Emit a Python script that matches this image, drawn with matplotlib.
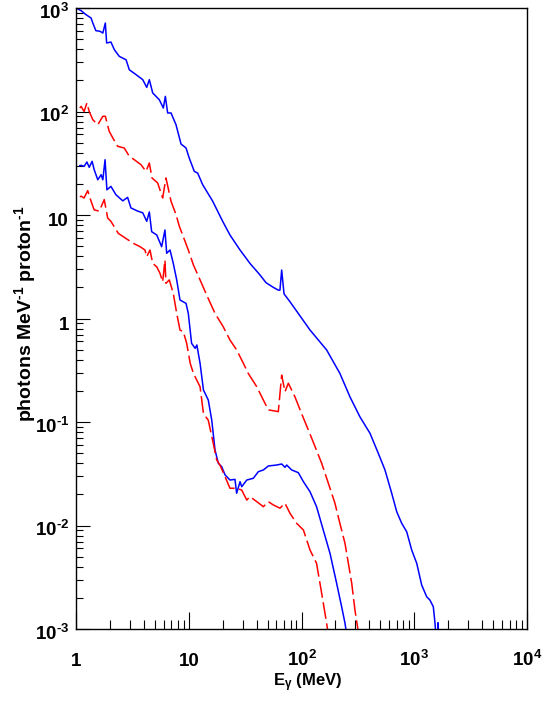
import numpy as np
import matplotlib
matplotlib.use("Agg")
import matplotlib.pyplot as plt
from matplotlib import transforms
from matplotlib.ticker import LogLocator, NullFormatter

plt.rcParams["font.family"] = ["Liberation Sans", "DejaVu Sans"]
plt.rcParams["font.weight"] = "bold"
plt.rcParams["mathtext.fontset"] = "custom"
plt.rcParams["mathtext.rm"] = "Liberation Sans:bold"
plt.rcParams["mathtext.bf"] = "Liberation Sans:bold"
plt.rcParams["mathtext.it"] = "Liberation Sans"

# ----------------------------------------------------------
# spectra (E in MeV, photons/MeV/proton)
# ----------------------------------------------------------

e_blue_hi = [1.02, 1.11, 1.23, 1.36, 1.41, 1.50, 1.63, 1.73, 1.82, 1.87, 2.04,
             2.19, 2.42, 2.78, 2.97, 3.41, 3.91, 4.24, 4.47, 4.79, 5.48, 5.95,
             6.20, 6.50, 6.96, 7.71, 8.54, 9.46, 10.1, 11.2, 12.0, 13.3, 16.3,
             20.0, 23.2, 28.5, 34.9, 42.9, 48.4, 56.2, 62.3, 64.4, 66.7, 70.0,
             79.1, 119, 167, 219, 269, 330, 405, 480, 550, 631, 699, 774, 857,
             949, 1052, 1164, 1289, 1379, 1476, 1528, 1560, 1600, 1625, 1650]
y_blue_hi = [990, 942, 861, 800, 716, 604, 596, 573, 716, 459, 469,
             395, 341, 316, 253, 227, 203, 171, 203, 151, 130, 108,
             140, 96.8, 96.8, 74.5, 48.5, 44.4, 35.5, 26.4, 25.4, 19.6, 13.6,
             8.68, 6.41, 4.59, 3.41, 2.63, 2.22, 2.00, 1.88, 1.88, 2.94, 1.73,
             1.45, 0.774, 0.497, 0.295, 0.175, 0.112, 0.0778, 0.0498, 0.0344,
             0.0205, 0.0136, 0.0105, 0.00871, 0.00580, 0.00431, 0.00266,
             0.00205, 0.00190, 0.00164, 0.00114, 0.0008, 0.0008, 0.00115, 0.0008]

e_red_hi = [1.08, 1.11, 1.18, 1.25, 1.31, 1.41, 1.56, 1.73, 1.82, 1.97, 2.12,
            2.34, 2.68, 2.97, 3.29, 3.77, 4.18, 4.47, 4.72, 5.30, 5.87, 6.28,
            6.96, 7.71, 8.25, 8.95, 9.91, 11.0, 12.6, 14.4, 17.1, 20.2, 23.2,
            26.6, 30.5, 33.7, 40.1, 45.9, 50.8, 62.3, 66.7, 71.4, 76.4, 87.5,
            100, 115, 132, 151, 173, 198, 219, 243, 279, 298, 317, 325]
y_red_hi = [108, 112, 100, 121, 100, 83.3, 74.5, 89.9, 89.9, 64.4, 55.5,
            46.1, 44.4, 36.9, 34.2, 30.6, 26.4, 31.8, 22.8, 20.4, 14.6, 22.8,
            13.6, 10.1, 7.78, 6.17, 4.59, 3.29, 2.36, 1.69, 1.12, 0.834, 0.620,
            0.497, 0.369, 0.295, 0.219, 0.163, 0.131, 0.126, 0.284, 0.196,
            0.237, 0.175, 0.121, 0.0837, 0.0577, 0.0399, 0.0256, 0.0164,
            0.0105, 0.00673, 0.00276, 0.00152, 0.00098, 0.0007]

e_blue_lo = [1.08, 1.11, 1.18, 1.25, 1.31, 1.39, 1.45, 1.56, 1.67, 1.73, 1.81,
             1.88, 2.04, 2.26, 2.60, 2.87, 3.07, 3.53, 3.91, 4.24, 4.47, 4.69,
             5.20, 5.75, 6.15, 6.37, 6.82, 7.29, 7.82, 8.36, 9.46, 9.91, 10.6,
             11.4, 11.8, 12.6, 13.5, 14.9, 16.0, 17.1, 18.3, 19.6, 21.0, 23.2,
             25.7, 26.6, 28.5, 29.5, 32.7, 37.4, 41.4, 45.9, 50.8, 60.3, 66.7,
             71.4, 73.9, 81.8, 93.7, 104, 119, 136, 156, 179, 205, 227, 243, 255]
y_blue_lo = [30.0, 30.2, 29.5, 32.5, 28.9, 33.0, 27.4, 21.9, 24.5, 21.9, 34.2,
             17.5, 18.9, 15.7, 13.7, 14.8, 11.7, 10.9, 10.5, 8.69, 10.7, 6.90,
             6.41, 4.94, 7.16, 4.27, 4.59, 3.41, 2.36, 1.51, 1.40, 1.12, 0.575,
             0.515, 0.555, 0.369, 0.204, 0.163, 0.104, 0.0536, 0.0399, 0.0370,
             0.0308, 0.0275, 0.0279, 0.0205, 0.0265, 0.0237, 0.0275, 0.0286,
             0.0331, 0.0344, 0.0376, 0.0384, 0.0393, 0.0365, 0.0384, 0.0344,
             0.0324, 0.0265, 0.0212, 0.0152, 0.00904, 0.00538, 0.00276,
             0.00164, 0.00114, 0.0008]

e_red_lo = [1.08, 1.11, 1.18, 1.27, 1.36, 1.45, 1.61, 1.78, 1.91, 2.04, 2.37,
            2.91, 3.22, 3.70, 4.09, 4.24, 4.53, 4.79, 5.20, 5.56, 5.87, 6.15,
            6.28, 6.72, 7.29, 7.82, 8.36, 8.95, 9.59, 10.3, 11.0, 12.6, 13.5,
            14.9, 16.5, 17.7, 18.9, 21.0, 23.2, 26.6, 29.5, 32.7, 34.9, 40.1,
            45.9, 50.8, 56.2, 64.4, 71.4, 79.1, 90.6, 104, 119, 136, 151, 167, 175]
y_red_lo = [15.0, 15.2, 14.6, 17.2, 13.6, 11.2, 10.9, 14.1, 9.35, 8.69, 6.65,
            5.73, 5.33, 4.94, 4.59, 3.95, 4.59, 3.41, 3.16, 2.73, 2.26, 3.67,
            2.19, 2.36, 1.75, 1.12, 0.774, 0.745, 0.575, 0.369, 0.295, 0.219,
            0.121, 0.104, 0.0622, 0.0430, 0.0384, 0.0296, 0.0229, 0.0229,
            0.0220, 0.0176, 0.0190, 0.0170, 0.0152, 0.0170, 0.0158, 0.0147,
            0.0164, 0.0131, 0.0105, 0.00904, 0.00580, 0.00431, 0.00221,
            0.00114, 0.0008]

x_tick_vals = [1, 10, 100, 1000, 10000]
x_tick_text = ["1", "10", r"$10^{2}$", r"$10^{3}$", r"$10^{4}$"]
y_tick_vals = [1e-3, 1e-2, 1e-1, 1, 10, 100, 1000]
y_tick_text = [r"$10^{\text{-}3}$", r"$10^{\text{-}2}$", r"$10^{\text{-}1}$",
               "1", "10", r"$10^{2}$", r"$10^{3}$"]

# ----------------------------------------------------------
# figure
# ----------------------------------------------------------

fig = plt.figure(figsize=(5.45, 7.02), dpi=100)
ax = fig.add_axes([76 / 545, 73 / 702, 451 / 545, 621 / 702])

ax.plot(e_blue_hi, y_blue_hi, color="#0000ff", lw=1.1)
ax.plot(e_red_hi, y_red_hi, color="#ff0000", lw=1.1, dashes=(11, 3))
ax.plot(e_blue_lo, y_blue_lo, color="#0000ff", lw=1.1)
ax.plot(e_red_lo, y_red_lo, color="#ff0000", lw=1.1, dashes=(11, 3))

ax.set_xscale("log")
ax.set_yscale("log")
ax.set_xlim(1, 1e4)
ax.set_ylim(1e-3, 1e3)

ax.set_xticks(x_tick_vals)
ax.set_yticks(y_tick_vals)
ax.xaxis.set_minor_locator(LogLocator(subs=np.arange(2, 10), numticks=30))
ax.yaxis.set_minor_locator(LogLocator(subs=np.arange(2, 10), numticks=30))
ax.xaxis.set_minor_formatter(NullFormatter())
ax.yaxis.set_minor_formatter(NullFormatter())

ax.tick_params(which="both", direction="in", top=False, right=False,
               labelbottom=False, labelleft=False, width=0.8, color="black")
ax.tick_params(axis="x", which="major", length=12)
ax.tick_params(axis="x", which="minor", length=6.5)
ax.tick_params(axis="y", which="major", length=10)
ax.tick_params(axis="y", which="minor", length=5)

for sp in ax.spines.values():
    sp.set_linewidth(1.0)

# tick labels, ROOT style (same baseline for all)
xtr = ax.get_xaxis_transform()
for v, t in zip(x_tick_vals, x_tick_text):
    ax.text(v, -0.0596, t, transform=xtr, ha="center", va="baseline",
            fontsize=13.5, fontweight="bold")

ytr = transforms.offset_copy(ax.get_yaxis_transform(), fig=fig,
                             x=0, y=-11, units="dots")
for v, t in zip(y_tick_vals, y_tick_text):
    ax.text(-0.0155, v, t, transform=ytr, ha="right", va="baseline",
            fontsize=13.5, fontweight="bold")

fig.text(25 / 545, 388 / 702, r"photons MeV$^{\text{-}1}$ proton$^{\text{-}1}$",
         rotation=90, ha="center", va="center", fontsize=14, fontweight="bold")
fig.text(308 / 545, 16 / 702, r"E$_{\gamma}$ (MeV)",
         ha="center", va="baseline", fontsize=12, fontweight="bold")

fig.savefig("out.png", dpi=100)
